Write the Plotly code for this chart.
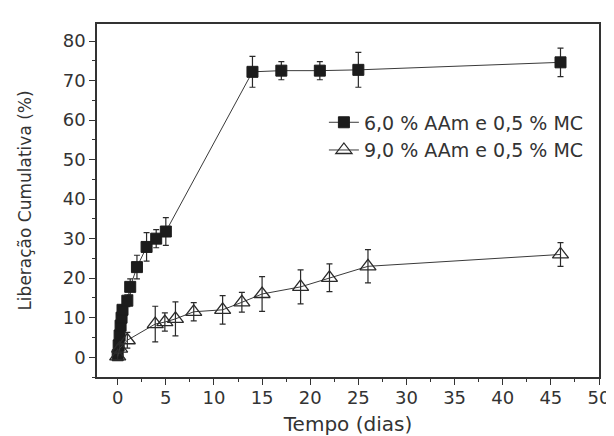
import plotly.graph_objects as go

# Series 1: 6,0 % AAm e 0,5 % MC
t1 = [0, 0.1, 0.2, 0.3, 0.4, 0.5, 1.0, 1.3, 2.0, 3.0, 4.0, 5.0, 14.0, 17.0, 21.0, 25.0, 46.0]
y1 = [0.5, 3.0, 5.5, 8.0, 10.0, 12.0, 14.3, 17.8, 22.8, 27.9, 30.0, 31.8, 72.2, 72.5, 72.5, 72.7, 74.6]
e1 = [0.6, 0.8, 1.0, 1.0, 1.2, 1.2, 1.5, 2.0, 3.0, 3.6, 2.3, 3.5, 3.9, 2.3, 2.3, 4.4, 3.6]

# Series 2: 9,0 % AAm e 0,5 % MC
t2 = [0, 0.2, 1.0, 3.9, 4.9, 6.0, 7.9, 10.9, 12.9, 15.0, 19.0, 22.0, 26.0, 46.0]
y2 = [0.2, 2.2, 4.3, 8.4, 8.9, 9.7, 11.5, 12.0, 13.9, 16.0, 17.8, 20.1, 23.0, 26.0]
e2 = [0.8, 1.0, 2.0, 4.5, 2.3, 4.3, 2.3, 3.6, 2.5, 4.4, 4.3, 3.5, 4.2, 3.0]

labels = ["6,0 % AAm e 0,5 % MC", "9,0 % AAm e 0,5 % MC"]

FONT = "DejaVu Sans, Liberation Sans, Arial, sans-serif"
INK = "#333333"

fig = go.Figure()
fig.add_trace(go.Scatter(
    x=t1, y=y1, mode="lines+markers", name=labels[0],
    line=dict(color="#3a3a3a", width=1),
    marker=dict(symbol="square", size=11, color="#1c1c1c", line=dict(color="#1c1c1c", width=1)),
    error_y=dict(type="data", array=e1, visible=True, color="#2a2a2a", thickness=1.2, width=3),
))
fig.add_trace(go.Scatter(
    x=t2, y=y2, mode="lines+markers", name=labels[1],
    line=dict(color="#3a3a3a", width=1),
    marker=dict(symbol="triangle-up-open", size=14, color="#2a2a2a", line=dict(color="#2a2a2a", width=1.3)),
    error_y=dict(type="data", array=e2, visible=True, color="#2a2a2a", thickness=1.2, width=3),
))

axis_common = dict(
    showline=True, linecolor=INK, linewidth=1.6, mirror=True,
    ticks="outside", ticklen=6, tickwidth=1.2, tickcolor=INK,
    showgrid=False, zeroline=False,
    tickfont=dict(family=FONT, size=18, color=INK),
)

fig.update_xaxes(
    range=[-2.15, 50], tick0=0, dtick=5,
    minor=dict(ticks="outside", ticklen=3, dtick=2.5, tick0=0, tickcolor=INK),
    ticklabelstandoff=-2,
    title=dict(text="Tempo (dias)", font=dict(family=FONT, size=20, color=INK), standoff=10),
    **axis_common,
)
fig.update_yaxes(
    range=[-5.0, 84.3], tick0=0, dtick=10,
    minor=dict(ticks="outside", ticklen=3, dtick=5, tick0=0, tickcolor=INK),
    title=dict(text="Liberação Cumulativa (%)", font=dict(family=FONT, size=17, color=INK), standoff=27),
    **axis_common,
)

fig.update_layout(
    width=614, height=436,
    margin=dict(l=89, r=15, t=16, b=64),
    paper_bgcolor="white", plot_bgcolor="white",
    showlegend=True,
    legend=dict(x=0.452, y=0.775, xanchor="left", yanchor="top",
                bgcolor="rgba(0,0,0,0)", tracegroupgap=0, itemwidth=30,
                font=dict(family=FONT, size=19, color=INK)),
)

fig.write_html("out.html")
